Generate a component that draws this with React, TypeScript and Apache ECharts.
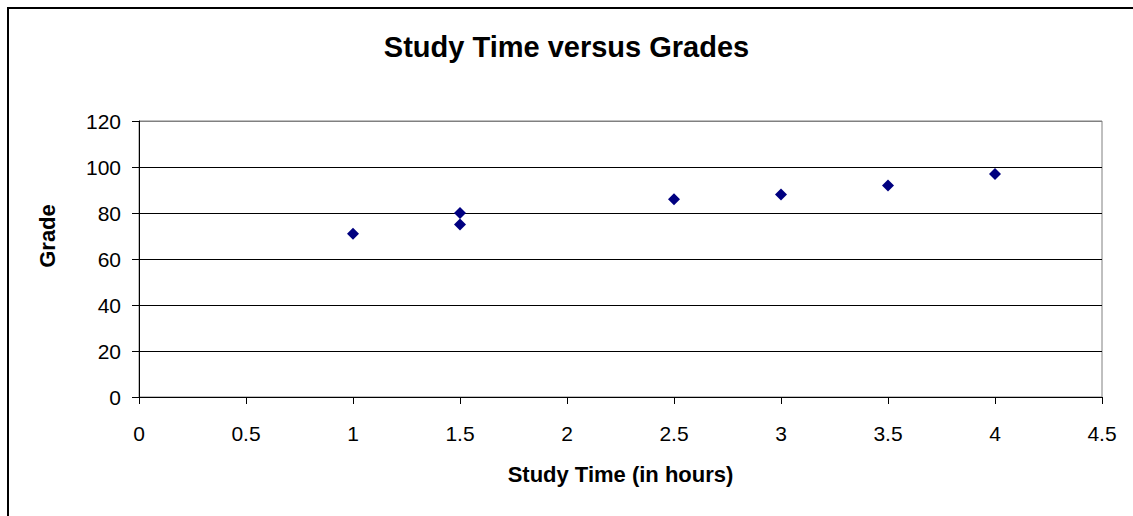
import React, { useEffect, useRef } from "react";
import * as echarts from "echarts";

// Study hours and the grade obtained, one entry per student
const studyHours: number[] = [1, 1.5, 1.5, 2.5, 3, 3.5, 4];
const grades: number[] = [71, 80, 75, 86, 88, 92, 97];

const chartTitle = "Study Time versus Grades";
const xAxisTitle = "Study Time (in hours)";
const yAxisTitle = "Grade";

const FONT = "'Liberation Sans', Arial, sans-serif";

export default function App() {
  const ref = useRef<HTMLDivElement>(null);

  useEffect(() => {
    if (!ref.current) return;
    const chart = echarts.init(ref.current, null, { renderer: "svg" });
    const points = studyHours.map((h, i) => [h, grades[i]]);

    chart.setOption({
      animation: false,
      backgroundColor: "#ffffff",
      textStyle: { fontFamily: FONT },
      title: {
        text: chartTitle,
        left: "center",
        top: 27,
        textStyle: { fontFamily: FONT, fontSize: 29, fontWeight: "bold", color: "#000" },
      },
      grid: {
        left: 139,
        right: 31,
        top: 121,
        bottom: 119,
        show: true,
        borderColor: "#808080",
        borderWidth: 1,
        backgroundColor: "transparent",
      },
      xAxis: {
        type: "value",
        min: 0,
        max: 4.5,
        interval: 0.5,
        name: xAxisTitle,
        nameLocation: "middle",
        nameGap: 66,
        nameTextStyle: { fontFamily: FONT, fontSize: 22, fontWeight: "bold", color: "#000" },
        axisLine: { show: true, onZero: false, lineStyle: { color: "#000", width: 1 } },
        axisTick: { show: true, length: 7, lineStyle: { color: "#000" } },
        axisLabel: { fontFamily: FONT, fontSize: 21, color: "#000", margin: 26 },
        splitLine: { show: false },
      },
      yAxis: {
        type: "value",
        min: 0,
        max: 120,
        interval: 20,
        axisLine: { show: true, onZero: false, lineStyle: { color: "#000", width: 1 } },
        axisTick: { show: true, length: 7, lineStyle: { color: "#000" } },
        axisLabel: { fontFamily: FONT, fontSize: 21, color: "#000", margin: 18 },
        splitLine: {
          show: true,
          lineStyle: {
            // the line at the top coincides with the grey plot-area border
            color: ["#000", "#000", "#000", "#000", "#000", "#000", "#808080"],
            width: 1,
          },
        },
      },
      graphic: [
        {
          type: "rect",
          shape: { x: 8, y: 8, width: 1300, height: 700 },
          style: { fill: "none", stroke: "#000", lineWidth: 2 },
          silent: true,
        },
        {
          type: "text",
          x: 47,
          y: 236,
          rotation: Math.PI / 2,
          style: {
            text: yAxisTitle,
            fontFamily: FONT,
            fontSize: 22,
            fontWeight: "bold",
            fill: "#000",
            align: "center",
            verticalAlign: "middle",
          },
        },
      ],
      series: [
        {
          type: "scatter",
          data: points,
          symbol: "diamond",
          symbolSize: 12,
          itemStyle: { color: "#000080", opacity: 1 },
        },
      ],
    });

    return () => chart.dispose();
  }, []);

  return (
    <div
      ref={ref}
      style={{ position: "absolute", left: 0, top: 0, width: 1133, height: 516 }}
    />
  );
}
